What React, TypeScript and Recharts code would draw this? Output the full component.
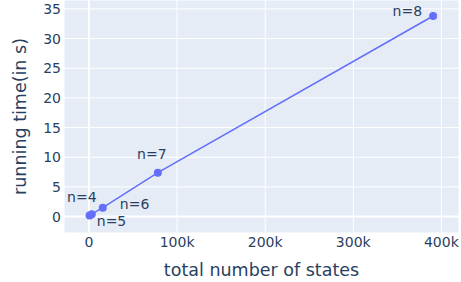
import { LineChart, Line, XAxis, YAxis, CartesianGrid, LabelList, Label, ReferenceLine } from 'recharts';

const STATES = [625, 3125, 15625, 78125, 390625];
const TIMES = [0.2, 0.4, 1.5, 7.4, 33.8];
const LABELS = ['n=4', 'n=5', 'n=6', 'n=7', 'n=8'];
const X_TICKS = [0, 100000, 200000, 300000, 400000];
const Y_TICKS = [0, 5, 10, 15, 20, 25, 30, 35];

const data = STATES.map((s, i) => ({ states: s, time: TIMES[i], label: LABELS[i] }));

// where each text sits relative to its marker (plotly-like textposition)
const LABEL_OFFSETS: { dx: number; dy: number; anchor: 'start' | 'middle' | 'end' }[] = [
  { dx: 7, dy: -18, anchor: 'end' },
  { dx: 5, dy: 7, anchor: 'start' },
  { dx: 17, dy: -4, anchor: 'start' },
  { dx: -6, dy: -19, anchor: 'middle' },
  { dx: -11, dy: -5, anchor: 'end' },
];

const FONT = '"DejaVu Sans", Verdana, sans-serif';
const INK = '#2a3f5f';

const renderLabel = (props: any) => {
  const { x, y, value } = props;
  const i = LABELS.indexOf(value);
  const o = LABEL_OFFSETS[i] ?? { dx: 0, dy: -12, anchor: 'middle' };
  return (
    <text
      x={x + o.dx}
      y={y + o.dy}
      textAnchor={o.anchor}
      dominantBaseline="central"
      fill={INK}
      fontSize={14}
      fontFamily={FONT}
    >
      {value}
    </text>
  );
};

export default function App() {
  return (
    <div style={{ position: 'absolute', left: 0, top: 0 }}>
      <LineChart width={461} height={282} data={data} margin={{ top: 0, right: 2, bottom: 0, left: 0 }}>
        <CartesianGrid stroke="#ffffff" fill="#e5ecf6" />
        <XAxis
          dataKey="states"
          type="number"
          domain={[-28400, 420000]}
          allowDataOverflow
          ticks={X_TICKS}
          tickFormatter={(v: number) => (v === 0 ? '0' : `${v / 1000}k`)}
          tick={{ fill: INK, fontSize: 14, fontFamily: FONT }}
          tickLine={false}
          axisLine={false}
          tickSize={0}
          tickMargin={4}
          height={49}
        >
          <Label
            value="total number of states"
            position="insideBottom"
            offset={6}
            style={{ fill: INK, fontSize: 17.5, fontFamily: FONT }}
          />
        </XAxis>
        <YAxis
          type="number"
          domain={[-2.77, 36.5]}
          allowDataOverflow
          ticks={Y_TICKS}
          tick={{ fill: INK, fontSize: 14, fontFamily: FONT }}
          tickLine={false}
          axisLine={false}
          tickSize={0}
          tickMargin={3}
          width={64}
        >
          <Label
            value="running time(in s)"
            angle={-90}
            position="insideLeft"
            offset={20}
            style={{ fill: INK, fontSize: 17.5, fontFamily: FONT, textAnchor: 'middle' }}
          />
        </YAxis>
        <ReferenceLine x={0} stroke="#ffffff" strokeWidth={2} />
        <ReferenceLine y={0} stroke="#ffffff" strokeWidth={2} />
        <Line
          dataKey="time"
          stroke="#636efa"
          strokeWidth={1.5}
          dot={{ r: 4, fill: '#636efa', stroke: '#636efa', strokeWidth: 0 }}
          isAnimationActive={false}
        >
          <LabelList dataKey="label" content={renderLabel} />
        </Line>
      </LineChart>
    </div>
  );
}
